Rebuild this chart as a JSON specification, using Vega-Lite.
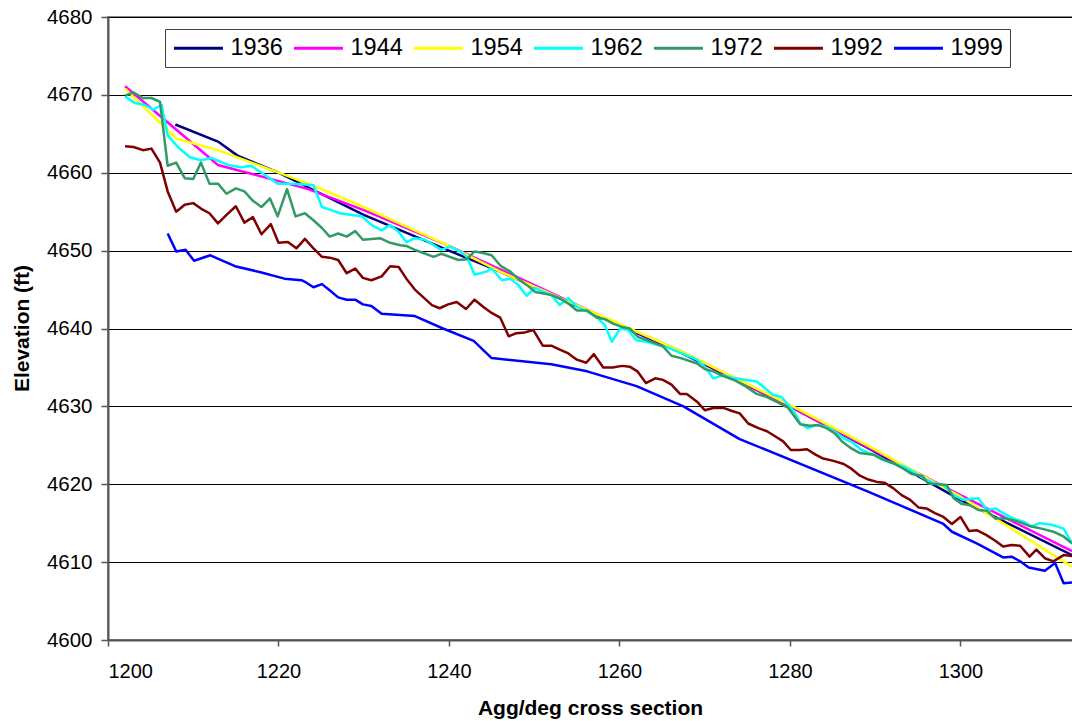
{
"$schema":"https://vega.github.io/schema/vega-lite/v6.json",
"width":965,"height":623,
"autosize":{"type":"none"},
"padding":{"left":108,"top":17,"right":0,"bottom":81},
"background":"white",
"config":{"view":{"stroke":"#888888","strokeWidth":2},"font":"Liberation Sans"},
"data":{"values":[
{"s":"1936","x":1207.9,"y":4666.2},{"s":"1936","x":1212.9,"y":4664.0},{"s":"1936","x":1215.2,"y":4662.2},{"s":"1936","x":1220,"y":4660.0},{"s":"1936","x":1230,"y":4654.6},{"s":"1936","x":1240,"y":4650.0},{"s":"1936","x":1246,"y":4647.3},{"s":"1936","x":1260,"y":4640.4},{"s":"1936","x":1267,"y":4637.0},{"s":"1936","x":1280,"y":4630.0},{"s":"1936","x":1289.4,"y":4624.5},{"s":"1936","x":1300,"y":4618.0},{"s":"1936","x":1313.1,"y":4610.9},
{"s":"1944","x":1202,"y":4671.1},{"s":"1944","x":1212.9,"y":4661.0},{"s":"1944","x":1216,"y":4660.1},{"s":"1944","x":1223.5,"y":4657.9},{"s":"1944","x":1230,"y":4655.2},{"s":"1944","x":1240,"y":4650.6},{"s":"1944","x":1246,"y":4647.6},{"s":"1944","x":1260,"y":4640.5},{"s":"1944","x":1267,"y":4637.2},{"s":"1944","x":1280,"y":4630.0},{"s":"1944","x":1289.4,"y":4624.6},{"s":"1944","x":1300,"y":4618.6},{"s":"1944","x":1313.1,"y":4611.4},
{"s":"1954","x":1202,"y":4670.8},{"s":"1954","x":1208,"y":4664.4},{"s":"1954","x":1212.9,"y":4662.9},{"s":"1954","x":1223.5,"y":4658.6},{"s":"1954","x":1230,"y":4655.6},{"s":"1954","x":1240,"y":4650.6},{"s":"1954","x":1246,"y":4647.3},{"s":"1954","x":1260,"y":4640.6},{"s":"1954","x":1267,"y":4637.2},{"s":"1954","x":1280,"y":4630.2},{"s":"1954","x":1289.4,"y":4624.8},{"s":"1954","x":1300,"y":4618.4},{"s":"1954","x":1313.1,"y":4609.4},
{"s":"1962","x":1202.0,"y":4669.8},{"s":"1962","x":1203.1,"y":4669.0},{"s":"1962","x":1204.3,"y":4668.7},{"s":"1962","x":1205.3,"y":4668.1},{"s":"1962","x":1206.3,"y":4668.7},{"s":"1962","x":1207.0,"y":4664.8},{"s":"1962","x":1208.2,"y":4663.3},{"s":"1962","x":1209.6,"y":4662.0},{"s":"1962","x":1210.9,"y":4661.6},{"s":"1962","x":1212.1,"y":4661.9},{"s":"1962","x":1214.1,"y":4661.0},{"s":"1962","x":1215.6,"y":4660.7},{"s":"1962","x":1216.8,"y":4660.9},{"s":"1962","x":1218.4,"y":4659.7},{"s":"1962","x":1219.9,"y":4658.6},{"s":"1962","x":1221.9,"y":4658.6},{"s":"1962","x":1224.1,"y":4658.4},{"s":"1962","x":1225.1,"y":4655.6},{"s":"1962","x":1226.2,"y":4655.2},{"s":"1962","x":1227.2,"y":4654.8},{"s":"1962","x":1228.4,"y":4654.6},{"s":"1962","x":1229.8,"y":4654.4},{"s":"1962","x":1230.9,"y":4653.3},{"s":"1962","x":1232.1,"y":4652.6},{"s":"1962","x":1233.1,"y":4653.3},{"s":"1962","x":1234.1,"y":4652.4},{"s":"1962","x":1235.0,"y":4651.1},{"s":"1962","x":1236.0,"y":4651.6},{"s":"1962","x":1237.2,"y":4651.4},{"s":"1962","x":1238.2,"y":4650.7},{"s":"1962","x":1239.1,"y":4650.1},{"s":"1962","x":1240.1,"y":4650.5},{"s":"1962","x":1241.3,"y":4649.9},{"s":"1962","x":1242.1,"y":4649.2},{"s":"1962","x":1243.0,"y":4646.9},{"s":"1962","x":1244.4,"y":4647.3},{"s":"1962","x":1245.0,"y":4647.7},{"s":"1962","x":1246.2,"y":4646.2},{"s":"1962","x":1247.2,"y":4646.4},{"s":"1962","x":1248.1,"y":4645.6},{"s":"1962","x":1249.1,"y":4644.2},{"s":"1962","x":1250.1,"y":4645.2},{"s":"1962","x":1251.1,"y":4644.7},{"s":"1962","x":1252.0,"y":4644.3},{"s":"1962","x":1253.0,"y":4643.0},{"s":"1962","x":1254.0,"y":4643.9},{"s":"1962","x":1255.0,"y":4642.8},{"s":"1962","x":1256.2,"y":4642.2},{"s":"1962","x":1257.3,"y":4641.5},{"s":"1962","x":1258.3,"y":4640.4},{"s":"1962","x":1259.1,"y":4638.3},{"s":"1962","x":1260.1,"y":4640.0},{"s":"1962","x":1261.0,"y":4639.8},{"s":"1962","x":1262.0,"y":4638.5},{"s":"1962","x":1263.2,"y":4638.3},{"s":"1962","x":1264.4,"y":4637.9},{"s":"1962","x":1265.6,"y":4637.6},{"s":"1962","x":1267.3,"y":4636.8},{"s":"1962","x":1269.1,"y":4636.0},{"s":"1962","x":1270.0,"y":4635.1},{"s":"1962","x":1271.0,"y":4633.6},{"s":"1962","x":1272.2,"y":4634.0},{"s":"1962","x":1273.6,"y":4633.6},{"s":"1962","x":1274.9,"y":4633.4},{"s":"1962","x":1276.1,"y":4633.2},{"s":"1962","x":1277.1,"y":4632.3},{"s":"1962","x":1278.0,"y":4631.5},{"s":"1962","x":1279.0,"y":4631.2},{"s":"1962","x":1279.8,"y":4630.2},{"s":"1962","x":1280.6,"y":4629.1},{"s":"1962","x":1281.2,"y":4627.8},{"s":"1962","x":1282.1,"y":4627.2},{"s":"1962","x":1283.1,"y":4627.6},{"s":"1962","x":1284.3,"y":4627.4},{"s":"1962","x":1285.3,"y":4626.7},{"s":"1962","x":1286.3,"y":4625.9},{"s":"1962","x":1287.4,"y":4625.3},{"s":"1962","x":1288.4,"y":4624.4},{"s":"1962","x":1289.8,"y":4623.8},{"s":"1962","x":1290.9,"y":4623.1},{"s":"1962","x":1292.1,"y":4622.7},{"s":"1962","x":1293.3,"y":4622.3},{"s":"1962","x":1294.5,"y":4621.6},{"s":"1962","x":1295.6,"y":4620.8},{"s":"1962","x":1296.8,"y":4620.2},{"s":"1962","x":1298.0,"y":4619.9},{"s":"1962","x":1299.2,"y":4618.6},{"s":"1962","x":1300.3,"y":4618.0},{"s":"1962","x":1301.1,"y":4618.1},{"s":"1962","x":1302.1,"y":4618.2},{"s":"1962","x":1303.1,"y":4616.7},{"s":"1962","x":1304.1,"y":4616.9},{"s":"1962","x":1305.0,"y":4616.3},{"s":"1962","x":1306.2,"y":4615.6},{"s":"1962","x":1307.4,"y":4615.2},{"s":"1962","x":1308.3,"y":4614.6},{"s":"1962","x":1309.3,"y":4615.0},{"s":"1962","x":1310.7,"y":4614.8},{"s":"1962","x":1312.1,"y":4614.3},{"s":"1962","x":1313.1,"y":4612.4},
{"s":"1972","x":1202.0,"y":4669.9},{"s":"1972","x":1203.0,"y":4670.3},{"s":"1972","x":1204.1,"y":4669.6},{"s":"1972","x":1205.1,"y":4669.6},{"s":"1972","x":1206.1,"y":4669.1},{"s":"1972","x":1207.0,"y":4660.9},{"s":"1972","x":1208.0,"y":4661.3},{"s":"1972","x":1209.0,"y":4659.3},{"s":"1972","x":1210.0,"y":4659.2},{"s":"1972","x":1210.9,"y":4661.3},{"s":"1972","x":1211.9,"y":4658.6},{"s":"1972","x":1212.9,"y":4658.6},{"s":"1972","x":1213.9,"y":4657.3},{"s":"1972","x":1215.0,"y":4658.0},{"s":"1972","x":1216.0,"y":4657.6},{"s":"1972","x":1217.0,"y":4656.4},{"s":"1972","x":1218.0,"y":4655.6},{"s":"1972","x":1219.0,"y":4656.7},{"s":"1972","x":1219.9,"y":4654.4},{"s":"1972","x":1221.0,"y":4657.9},{"s":"1972","x":1222.0,"y":4654.4},{"s":"1972","x":1223.1,"y":4654.8},{"s":"1972","x":1224.1,"y":4653.9},{"s":"1972","x":1225.1,"y":4652.9},{"s":"1972","x":1226.0,"y":4651.8},{"s":"1972","x":1227.0,"y":4652.2},{"s":"1972","x":1228.0,"y":4651.8},{"s":"1972","x":1229.0,"y":4652.5},{"s":"1972","x":1229.9,"y":4651.4},{"s":"1972","x":1231.9,"y":4651.6},{"s":"1972","x":1233.1,"y":4651.0},{"s":"1972","x":1234.3,"y":4650.7},{"s":"1972","x":1235.0,"y":4650.6},{"s":"1972","x":1236.0,"y":4650.1},{"s":"1972","x":1237.0,"y":4649.7},{"s":"1972","x":1238.2,"y":4649.2},{"s":"1972","x":1239.1,"y":4649.6},{"s":"1972","x":1240.1,"y":4649.2},{"s":"1972","x":1241.1,"y":4648.8},{"s":"1972","x":1242.1,"y":4648.9},{"s":"1972","x":1243.0,"y":4649.9},{"s":"1972","x":1244.0,"y":4649.7},{"s":"1972","x":1245.0,"y":4649.4},{"s":"1972","x":1246.1,"y":4648.0},{"s":"1972","x":1247.2,"y":4647.3},{"s":"1972","x":1248.1,"y":4646.4},{"s":"1972","x":1249.1,"y":4645.6},{"s":"1972","x":1250.1,"y":4644.7},{"s":"1972","x":1251.1,"y":4644.5},{"s":"1972","x":1252.0,"y":4644.3},{"s":"1972","x":1253.0,"y":4643.9},{"s":"1972","x":1254.0,"y":4643.2},{"s":"1972","x":1255.0,"y":4642.3},{"s":"1972","x":1256.2,"y":4642.3},{"s":"1972","x":1257.3,"y":4641.4},{"s":"1972","x":1258.3,"y":4641.2},{"s":"1972","x":1259.3,"y":4640.6},{"s":"1972","x":1260.3,"y":4640.2},{"s":"1972","x":1261.2,"y":4640.0},{"s":"1972","x":1262.2,"y":4638.9},{"s":"1972","x":1263.2,"y":4638.5},{"s":"1972","x":1264.2,"y":4638.1},{"s":"1972","x":1265.1,"y":4637.7},{"s":"1972","x":1266.1,"y":4636.5},{"s":"1972","x":1267.2,"y":4636.2},{"s":"1972","x":1269.1,"y":4635.5},{"s":"1972","x":1270.0,"y":4634.8},{"s":"1972","x":1271.0,"y":4634.5},{"s":"1972","x":1272.2,"y":4633.9},{"s":"1972","x":1273.6,"y":4633.3},{"s":"1972","x":1274.9,"y":4632.5},{"s":"1972","x":1276.1,"y":4631.6},{"s":"1972","x":1277.3,"y":4631.2},{"s":"1972","x":1278.4,"y":4630.6},{"s":"1972","x":1279.8,"y":4629.8},{"s":"1972","x":1281.2,"y":4627.7},{"s":"1972","x":1282.3,"y":4627.5},{"s":"1972","x":1283.3,"y":4627.6},{"s":"1972","x":1284.3,"y":4627.2},{"s":"1972","x":1285.3,"y":4626.5},{"s":"1972","x":1286.1,"y":4625.5},{"s":"1972","x":1287.2,"y":4624.6},{"s":"1972","x":1288.2,"y":4624.0},{"s":"1972","x":1289.8,"y":4623.8},{"s":"1972","x":1290.9,"y":4623.2},{"s":"1972","x":1292.1,"y":4622.7},{"s":"1972","x":1293.3,"y":4622.0},{"s":"1972","x":1294.3,"y":4621.3},{"s":"1972","x":1295.5,"y":4621.1},{"s":"1972","x":1296.2,"y":4620.1},{"s":"1972","x":1297.4,"y":4620.0},{"s":"1972","x":1298.4,"y":4619.9},{"s":"1972","x":1299.2,"y":4618.2},{"s":"1972","x":1300.1,"y":4617.5},{"s":"1972","x":1301.1,"y":4617.3},{"s":"1972","x":1302.1,"y":4616.7},{"s":"1972","x":1303.1,"y":4616.6},{"s":"1972","x":1304.1,"y":4615.6},{"s":"1972","x":1305.4,"y":4615.6},{"s":"1972","x":1306.8,"y":4615.2},{"s":"1972","x":1308.2,"y":4614.6},{"s":"1972","x":1309.5,"y":4614.3},{"s":"1972","x":1310.9,"y":4613.9},{"s":"1972","x":1312.1,"y":4613.3},{"s":"1972","x":1313.1,"y":4612.4},
{"s":"1992","x":1202.0,"y":4663.4},{"s":"1992","x":1203.0,"y":4663.3},{"s":"1992","x":1204.1,"y":4662.9},{"s":"1992","x":1205.1,"y":4663.1},{"s":"1992","x":1206.1,"y":4661.3},{"s":"1992","x":1207.0,"y":4657.6},{"s":"1992","x":1208.0,"y":4655.0},{"s":"1992","x":1209.0,"y":4655.9},{"s":"1992","x":1210.0,"y":4656.1},{"s":"1992","x":1210.9,"y":4655.4},{"s":"1992","x":1211.9,"y":4654.8},{"s":"1992","x":1212.9,"y":4653.5},{"s":"1992","x":1213.9,"y":4654.6},{"s":"1992","x":1215.0,"y":4655.7},{"s":"1992","x":1216.0,"y":4653.6},{"s":"1992","x":1217.0,"y":4654.3},{"s":"1992","x":1218.0,"y":4652.1},{"s":"1992","x":1219.1,"y":4653.4},{"s":"1992","x":1220.0,"y":4651.0},{"s":"1992","x":1221.1,"y":4651.1},{"s":"1992","x":1222.1,"y":4650.3},{"s":"1992","x":1223.1,"y":4651.5},{"s":"1992","x":1224.1,"y":4650.3},{"s":"1992","x":1225.1,"y":4649.2},{"s":"1992","x":1226.0,"y":4649.1},{"s":"1992","x":1227.0,"y":4648.8},{"s":"1992","x":1228.0,"y":4647.1},{"s":"1992","x":1229.0,"y":4647.7},{"s":"1992","x":1229.9,"y":4646.5},{"s":"1992","x":1230.9,"y":4646.2},{"s":"1992","x":1232.1,"y":4646.7},{"s":"1992","x":1233.1,"y":4648.0},{"s":"1992","x":1234.1,"y":4647.9},{"s":"1992","x":1235.0,"y":4646.4},{"s":"1992","x":1236.0,"y":4645.0},{"s":"1992","x":1237.0,"y":4644.0},{"s":"1992","x":1238.0,"y":4643.0},{"s":"1992","x":1238.9,"y":4642.6},{"s":"1992","x":1239.9,"y":4643.1},{"s":"1992","x":1240.9,"y":4643.4},{"s":"1992","x":1242.0,"y":4642.5},{"s":"1992","x":1243.0,"y":4643.7},{"s":"1992","x":1244.0,"y":4642.8},{"s":"1992","x":1245.0,"y":4642.0},{"s":"1992","x":1246.0,"y":4641.4},{"s":"1992","x":1247.0,"y":4639.0},{"s":"1992","x":1247.9,"y":4639.4},{"s":"1992","x":1248.9,"y":4639.5},{"s":"1992","x":1249.9,"y":4639.8},{"s":"1992","x":1251.0,"y":4637.8},{"s":"1992","x":1252.0,"y":4637.8},{"s":"1992","x":1253.0,"y":4637.3},{"s":"1992","x":1254.0,"y":4636.8},{"s":"1992","x":1255.0,"y":4636.0},{"s":"1992","x":1256.1,"y":4635.6},{"s":"1992","x":1257.0,"y":4636.7},{"s":"1992","x":1258.1,"y":4635.0},{"s":"1992","x":1259.2,"y":4635.0},{"s":"1992","x":1260.3,"y":4635.2},{"s":"1992","x":1261.2,"y":4635.1},{"s":"1992","x":1262.1,"y":4634.5},{"s":"1992","x":1263.1,"y":4633.0},{"s":"1992","x":1264.2,"y":4633.6},{"s":"1992","x":1265.1,"y":4633.4},{"s":"1992","x":1266.1,"y":4632.8},{"s":"1992","x":1267.1,"y":4631.6},{"s":"1992","x":1267.9,"y":4631.6},{"s":"1992","x":1269.1,"y":4630.6},{"s":"1992","x":1270.0,"y":4629.5},{"s":"1992","x":1271.0,"y":4629.8},{"s":"1992","x":1272.2,"y":4629.8},{"s":"1992","x":1273.2,"y":4629.4},{"s":"1992","x":1274.1,"y":4629.1},{"s":"1992","x":1275.1,"y":4627.8},{"s":"1992","x":1276.3,"y":4627.2},{"s":"1992","x":1277.3,"y":4626.8},{"s":"1992","x":1278.2,"y":4626.2},{"s":"1992","x":1279.2,"y":4625.5},{"s":"1992","x":1280.1,"y":4624.4},{"s":"1992","x":1281.1,"y":4624.4},{"s":"1992","x":1282.0,"y":4624.5},{"s":"1992","x":1283.0,"y":4623.8},{"s":"1992","x":1283.9,"y":4623.3},{"s":"1992","x":1285.1,"y":4623.0},{"s":"1992","x":1286.3,"y":4622.6},{"s":"1992","x":1287.2,"y":4622.0},{"s":"1992","x":1288.2,"y":4621.1},{"s":"1992","x":1289.2,"y":4620.6},{"s":"1992","x":1290.2,"y":4620.3},{"s":"1992","x":1291.1,"y":4620.2},{"s":"1992","x":1292.1,"y":4619.5},{"s":"1992","x":1293.1,"y":4618.6},{"s":"1992","x":1294.1,"y":4618.0},{"s":"1992","x":1295.1,"y":4617.0},{"s":"1992","x":1296.0,"y":4616.9},{"s":"1992","x":1297.0,"y":4616.3},{"s":"1992","x":1298.0,"y":4615.8},{"s":"1992","x":1299.0,"y":4614.9},{"s":"1992","x":1300.0,"y":4615.8},{"s":"1992","x":1301.0,"y":4614.0},{"s":"1992","x":1301.9,"y":4614.1},{"s":"1992","x":1303.0,"y":4613.5},{"s":"1992","x":1304.0,"y":4612.8},{"s":"1992","x":1305.0,"y":4612.0},{"s":"1992","x":1306.0,"y":4612.2},{"s":"1992","x":1307.0,"y":4612.1},{"s":"1992","x":1308.1,"y":4610.7},{"s":"1992","x":1308.9,"y":4611.6},{"s":"1992","x":1309.9,"y":4610.5},{"s":"1992","x":1310.9,"y":4610.1},{"s":"1992","x":1312.1,"y":4610.9},{"s":"1992","x":1313.1,"y":4610.8},
{"s":"1999","x":1207.0,"y":4652.2},{"s":"1999","x":1208.0,"y":4649.9},{"s":"1999","x":1209.1,"y":4650.1},{"s":"1999","x":1210.1,"y":4648.7},{"s":"1999","x":1212.0,"y":4649.4},{"s":"1999","x":1214.9,"y":4648.0},{"s":"1999","x":1218.0,"y":4647.2},{"s":"1999","x":1220.7,"y":4646.4},{"s":"1999","x":1222.7,"y":4646.2},{"s":"1999","x":1223.1,"y":4646.0},{"s":"1999","x":1224.1,"y":4645.3},{"s":"1999","x":1225.1,"y":4645.7},{"s":"1999","x":1226.0,"y":4644.9},{"s":"1999","x":1227.0,"y":4644.0},{"s":"1999","x":1228.0,"y":4643.7},{"s":"1999","x":1229.0,"y":4643.7},{"s":"1999","x":1229.9,"y":4643.1},{"s":"1999","x":1230.9,"y":4642.9},{"s":"1999","x":1232.1,"y":4641.9},{"s":"1999","x":1236.0,"y":4641.6},{"s":"1999","x":1239.3,"y":4640.0},{"s":"1999","x":1242.9,"y":4638.4},{"s":"1999","x":1245.0,"y":4636.2},{"s":"1999","x":1252.0,"y":4635.4},{"s":"1999","x":1256.2,"y":4634.5},{"s":"1999","x":1262.0,"y":4632.6},{"s":"1999","x":1267.5,"y":4630.0},{"s":"1999","x":1274.1,"y":4625.8},{"s":"1999","x":1289.3,"y":4619.0},{"s":"1999","x":1298.0,"y":4614.9},{"s":"1999","x":1299.0,"y":4613.9},{"s":"1999","x":1301.9,"y":4612.4},{"s":"1999","x":1305.0,"y":4610.6},{"s":"1999","x":1306.0,"y":4610.7},{"s":"1999","x":1307.0,"y":4610.1},{"s":"1999","x":1308.0,"y":4609.3},{"s":"1999","x":1309.9,"y":4608.9},{"s":"1999","x":1311.1,"y":4609.9},{"s":"1999","x":1312.1,"y":4607.3},{"s":"1999","x":1313.1,"y":4607.4}
]},
"mark":{"type":"line","strokeWidth":2.5,"strokeJoin":"round","clip":true},
"encoding":{
"x":{"field":"x","type":"quantitative","scale":{"domain":[1200,1313.2],"nice":false,"zero":false},
"axis":{"title":"Agg/deg cross section","values":[1200,1220,1240,1260,1280,1300],"format":"d","grid":false,"labelFont":"Liberation Sans","labelFontSize":20,"labelColor":"#000000","labelPadding":15,"tickSize":6,"tickColor":"#555555","tickWidth":1.5,"domainColor":"#555555","domainWidth":2,"titleFont":"Liberation Sans","titleFontSize":21,"titleFontWeight":"bold","titleColor":"#000000","titleBaseline":"top","titleY":57,"titleX":482,"titleAlign":"center"}},
"y":{"field":"y","type":"quantitative","scale":{"domain":[4600,4680],"nice":false,"zero":false},
"axis":{"title":"Elevation (ft)","values":[4600,4610,4620,4630,4640,4650,4660,4670,4680],"format":"d","grid":true,"gridColor":"#000000","gridWidth":1,"labelFont":"Liberation Sans","labelFontSize":20.5,"labelColor":"#000000","labelPadding":9,"tickSize":7,"tickColor":"#555555","tickWidth":1.5,"domainColor":"#555555","domainWidth":2,"titleFont":"Liberation Sans","titleFontSize":21,"titleFontWeight":"bold","titleColor":"#000000","titleAngle":270,"titleBaseline":"alphabetic","titleAlign":"center","titleX":-80,"titleY":311}},
"color":{"field":"s","type":"nominal","scale":{"domain":["1936","1944","1954","1962","1972","1992","1999"],"range":["#000080","#FF00FF","#FFFF00","#00FFFF","#339966","#800000","#0000FF"]},
"legend":{"title":null,"orient":"none","legendX":57,"legendY":12,"direction":"horizontal","columns":7,"symbolType":"M-1,0H4","symbolSize":384,"symbolStrokeWidth":3,"symbolFillColor":"transparent","labelFont":"Liberation Sans","labelFontSize":23.5,"labelColor":"#000000","labelOffset":35,"columnPadding":4,"padding":7,"strokeColor":"#404040","fillColor":"#ffffff","labelLimit":200}}
}
}
